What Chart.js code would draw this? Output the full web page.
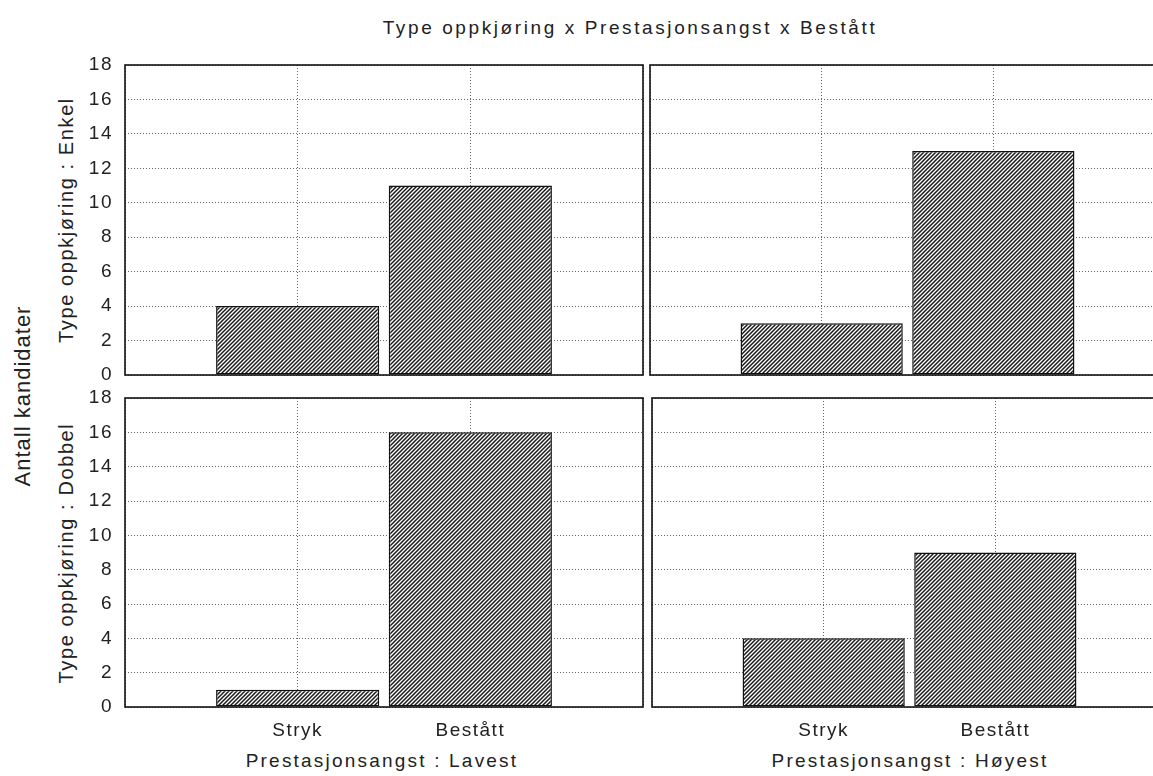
<!DOCTYPE html>
<html>
<head>
<meta charset="utf-8">
<script src="https://cdn.jsdelivr.net/npm/chart.js@4/dist/chart.umd.min.js"></script>
<style>
  html, body { margin: 0; padding: 0; background: #fff; }
  body { width: 1153px; height: 776px; overflow: hidden; position: relative;
         font-family: "Liberation Sans", Arial, sans-serif; color: #222; }
  canvas { position: absolute; }
  .txt { position: absolute; white-space: nowrap; font-size: 19px; letter-spacing: 1.5px;
         transform: translate(-50%, -50%); }
  .rot { transform: translate(-50%, -50%) rotate(-90deg); }
  #title { left: 630px; top: 28px; letter-spacing: 2.6px; }
  #ylab { left: 23px; top: 396px; font-size: 22px; letter-spacing: 1px; }
  .row { font-size: 20px; letter-spacing: 1.6px; left: 66px; }
  .col { letter-spacing: 2.2px; top: 761px; }
</style>
</head>
<body>
<div class="txt" id="title">Type oppkjøring x Prestasjonsangst x Bestått</div>
<div class="txt rot" id="ylab">Antall kandidater</div>
<div class="txt rot row" id="row0" style="top:220px"></div>
<div class="txt rot row" id="row1" style="top:553px"></div>
<div class="txt col" id="col0" style="left:382px"></div>
<div class="txt col" id="col1" style="left:910px"></div>
<canvas id="cTL" width="600" height="340" style="left:48px; top:55px"></canvas>
<canvas id="cTR" width="520" height="340" style="left:645px; top:55px"></canvas>
<canvas id="cBL" width="600" height="388" style="left:48px; top:388px"></canvas>
<canvas id="cBR" width="520" height="388" style="left:647px; top:388px"></canvas>
<script>
// categories on the x axis
const categories = ['Stryk', 'Bestått'];

// counts per panel (Type oppkjøring x Prestasjonsangst)
const enkelLavest = [4, 11];
const enkelHoyest = [3, 13];
const dobbelLavest = [1, 16];
const dobbelHoyest = [4, 9];

// y axis ticks
const yMin = 0;
const yMax = 18;
const yStep = 2;

const rowTitles = ['Type oppkjøring : Enkel', 'Type oppkjøring : Dobbel'];
const colTitles = ['Prestasjonsangst : Lavest', 'Prestasjonsangst : Høyest'];

document.getElementById('row0').textContent = rowTitles[0];
document.getElementById('row1').textContent = rowTitles[1];
document.getElementById('col0').textContent = colTitles[0];
document.getElementById('col1').textContent = colTitles[1];

const FONT = "'Liberation Sans', Arial, sans-serif";

// diagonal hatch used for the bars
function hatch() {
    const c = document.createElement('canvas');
    c.width = 4; c.height = 4;
    const g = c.getContext('2d');
    g.fillStyle = '#fff';
    g.fillRect(0, 0, 4, 4);
    g.strokeStyle = '#1a1a1a';
    g.lineWidth = 1.5;
    g.beginPath();
    g.moveTo(-1, 5); g.lineTo(5, -1);
    g.moveTo(-1, 1); g.lineTo(1, -1);
    g.moveTo(3, 5); g.lineTo(5, 3);
    g.stroke();
    return g.createPattern(c, 'repeat');
}

// box around the plot area + letter spacing for the tick text
const framePlugin = {
    id: 'frame',
    beforeDraw(chart) {
        chart.ctx.letterSpacing = '1.5px';
    },
    afterDraw(chart) {
        const a = chart.chartArea;
        const ctx = chart.ctx;
        ctx.save();
        ctx.strokeStyle = '#111';
        ctx.lineWidth = 1.6;
        ctx.setLineDash([]);
        ctx.strokeRect(a.left, a.top, a.right - a.left, a.bottom - a.top);
        ctx.restore();
    }
};

// keep the plot area where the layout padding puts it
function noPad(scale) {
    scale.paddingLeft = 0;
    scale.paddingRight = 0;
    scale.paddingTop = 0;
    scale.paddingBottom = 0;
}

function makePanel(id, values, opt) {
    const labels = ['', ...categories, ''];
    const data = [null, ...values, null];
    const ctx = document.getElementById(id).getContext('2d');

    new Chart(ctx, {
        type: 'bar',
        data: {
            labels: labels,
            datasets: [{
                data: data,
                backgroundColor: hatch(),
                borderColor: '#111',
                borderWidth: 1.5,
                borderSkipped: false,
                categoryPercentage: 1,
                barPercentage: 0.945
            }]
        },
        plugins: [framePlugin],
        options: {
            responsive: false,
            animation: false,
            layout: { padding: opt.padding },
            plugins: {
                legend: { display: false },
                tooltip: { enabled: false }
            },
            scales: {
                x: {
                    offset: false,
                    grid: { color: '#666', lineWidth: 1, drawTicks: false, offset: false },
                    border: { display: false, dash: [1, 2] },
                    ticks: {
                        display: opt.showX,
                        autoSkip: false,
                        maxRotation: 0,
                        padding: 12,
                        color: '#222',
                        font: { family: FONT, size: 19 }
                    },
                    afterFit(scale) {
                        scale.height = opt.showX ? 69 : 0;
                        noPad(scale);
                    }
                },
                y: {
                    min: yMin,
                    max: yMax,
                    grid: { color: '#666', lineWidth: 1, drawTicks: false },
                    border: { display: false, dash: [1, 2] },
                    ticks: {
                        display: opt.showY,
                        stepSize: yStep,
                        padding: 12,
                        color: '#222',
                        font: { family: FONT, size: 19 }
                    },
                    afterFit(scale) {
                        scale.width = opt.showY ? 72 : 0;
                        noPad(scale);
                    }
                }
            }
        }
    });
}

makePanel('cTL', enkelLavest, {
    showX: false, showY: true,
    padding: { left: 5, top: 10, right: 5, bottom: 20 }
});
makePanel('cTR', enkelHoyest, {
    showX: false, showY: false,
    padding: { left: 5, top: 10, right: 0, bottom: 20 }
});
makePanel('cBL', dobbelLavest, {
    showX: true, showY: true,
    padding: { left: 5, top: 10, right: 5, bottom: 0 }
});
makePanel('cBR', dobbelHoyest, {
    showX: true, showY: false,
    padding: { left: 5, top: 10, right: 0, bottom: 0 }
});
</script>
</body>
</html>
